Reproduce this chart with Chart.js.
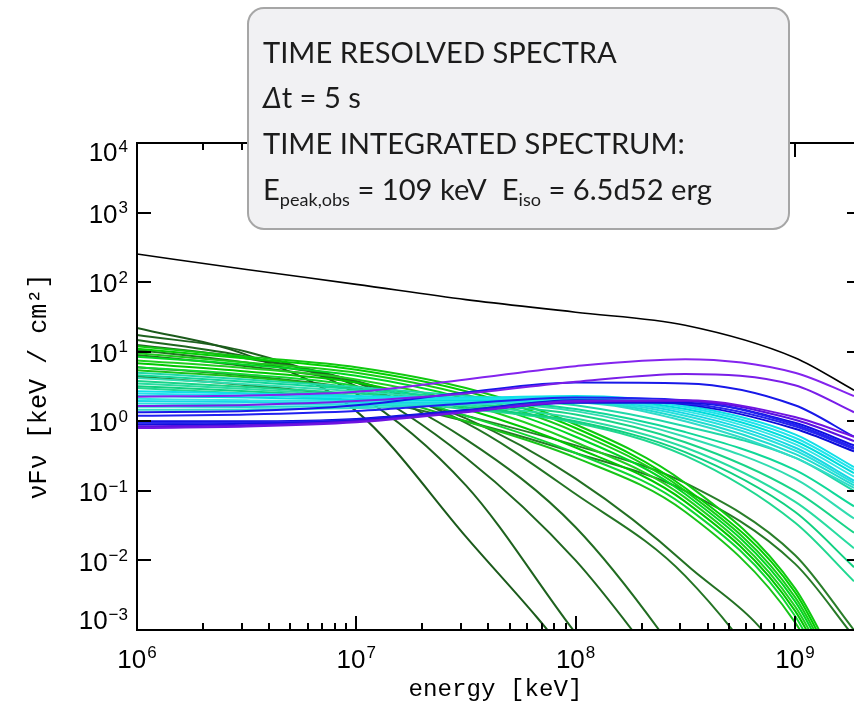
<!DOCTYPE html>
<html>
<head>
<meta charset="utf-8">
<script src="https://cdn.jsdelivr.net/npm/chart.js@4/dist/chart.umd.min.js"></script>
<style>
html,body{margin:0;padding:0;background:#ffffff;overflow:hidden}
#c{display:block}
</style>
</head>
<body>
<canvas id="c" width="854" height="712"></canvas>
<script>
// ---------------- DATA ----------------
const energy = [1e6, 3.16e6, 1e7, 3.16e7, 1e8, 3.16e8, 1e9, 1.86e9];

const integratedSpectrum = [254, 152, 93, 56, 37, 24, 8.2, 2.8];

const purpleSpectra = [
  [2.26, 2.35, 2.65, 4.0, 6.2, 7.8, 5.0, 2.3],
  [1.66, 1.72, 1.95, 2.5, 3.7, 4.8, 3.3, 1.35],
  [0.80, 0.84, 0.97, 1.35, 1.95, 2.0, 1.15, 0.6],
  [0.85, 0.88, 1.0, 1.38, 1.9, 1.95, 1.05, 0.52]
];
const blueSpectra = [
  [1.35, 1.4, 1.7, 2.6, 3.6, 3.5, 1.7, 0.6],
  [1.2, 1.25, 1.4, 1.8, 2.2, 2.0, 0.9, 0.42],
  [0.9, 0.92, 1.03, 1.4, 1.85, 1.85, 0.95, 0.45],
  [0.95, 0.96, 1.05, 1.42, 1.95, 1.8, 0.85, 0.4],
  [1.0, 1.0, 1.08, 1.45, 2.0, 1.75, 0.78, 0.37]
];
const cyanSpectra = [
  [2.7, 2.5, 2.3, 2.2, 2.3, 1.7, 0.65, 0.22],
  [2.5, 2.35, 2.2, 2.1, 2.2, 1.6, 0.58, 0.2],
  [2.3, 2.2, 2.05, 2.0, 2.1, 1.5, 0.52, 0.18],
  [2.1, 2.0, 1.95, 1.95, 2.05, 1.4, 0.47, 0.16],
  [1.95, 1.9, 1.85, 1.9, 2.0, 1.3, 0.42, 0.14],
  [1.8, 1.75, 1.75, 1.85, 1.95, 1.2, 0.38, 0.13],
  [1.62, 1.6, 1.65, 1.8, 1.9, 1.1, 0.34, 0.12],
  [1.46, 1.48, 1.55, 1.75, 1.85, 1.0, 0.3, 0.11]
];
const tealSpectra = [
  [5.0, 4.0, 3.1, 2.3, 1.7, 0.85, 0.3, 0.1],
  [4.6, 3.7, 2.9, 2.1, 1.5, 0.7, 0.2, 0.06],
  [4.2, 3.4, 2.7, 2.0, 1.4, 0.6, 0.15, 0.04],
  [3.8, 3.1, 2.5, 1.8, 1.25, 0.5, 0.1, 0.025],
  [3.5, 2.9, 2.3, 1.7, 1.1, 0.42, 0.07, 0.015],
  [3.2, 2.7, 2.2, 1.6, 1.0, 0.36, 0.05, 0.008],
  [3.0, 2.5, 2.0, 1.5, 0.95, 0.32, 0.035, 0.005]
];
const greenSpectra = [
  [12, 8.5, 6.0, 3.0, 0.9, 0.13, 0.004, 0.0001],
  [11, 8.0, 5.5, 2.7, 0.8, 0.11, 0.0035, 0.00008],
  [9.5, 7.0, 5.0, 2.4, 0.7, 0.1, 0.003, 0.00007],
  [8.5, 6.5, 4.5, 2.1, 0.6, 0.09, 0.0026, 0.00006],
  [7.5, 5.8, 4.0, 1.8, 0.5, 0.08, 0.0022, 0.00005],
  [6.8, 5.2, 3.6, 1.5, 0.42, 0.07, 0.0019, 0.00004],
  [6.0, 4.7, 3.2, 1.2, 0.35, 0.06, 0.0016, 0.00003],
  [5.4, 4.3, 2.8, 1.0, 0.3, 0.05, 0.0013, 0.00003]
];
const darkGreenSpectra = [
  [22, 9.0, 1.4, 0.022, 0.0003, 1e-6, 1e-8, 1e-9],
  [17.4, 10, 2.5, 0.12, 0.0009, 1e-5, 1e-7, 1e-8],
  [14.8, 8.5, 3.2, 0.3, 0.01, 0.0001, 1e-6, 1e-7],
  [12.5, 8.0, 3.6, 0.55, 0.03, 0.0003, 1e-6, 1e-7],
  [10.6, 7.0, 3.8, 0.95, 0.09, 0.006, 0.00005, 1e-6],
  [9.0, 6.2, 3.6, 1.1, 0.15, 0.009, 0.0002, 1e-6],
  [4.4, 3.3, 2.2, 1.0, 0.35, 0.1, 0.009, 0.0008],
  [6.0, 4.5, 2.9, 1.2, 0.45, 0.13, 0.012, 0.001]
];

const xTickExponents = [6, 7, 8, 9];
const yTickExponents = [-3, -2, -1, 0, 1, 2, 3, 4];
const xAxisTitle = 'energy [keV]';
const yAxisTitle = 'νFν [keV / cm²]';
const boxLines = ['TIME RESOLVED SPECTRA', 'Δt = 5 s', 'TIME INTEGRATED SPECTRUM:'];
const peakEnergy = '109 keV';
const isoEnergy = '6.5d52 erg';

// ---------------- STYLES ----------------
const purpleColors = ['#8424ee', '#7a1ee8', '#7014e0', '#5a10e0'];
const blueColors = ['#1818e8', '#2020f0', '#1010e0', '#2626ee', '#0c0cd8'];
const cyanColors = ['#10e0e8', '#20e4ec', '#00dcdc', '#30e6e6', '#18d8e4', '#28e0dc', '#20dcd0', '#30dcc8'];
const tealColors = ['#20d8a8', '#10d898', '#30dcb0', '#18d488', '#28dca0', '#10d080', '#20d890'];
const greenColors = ['#10c810', '#00d000', '#18cc18', '#00d820', '#20d020', '#00c800', '#10d830', '#18c418'];
const darkGreenColors = ['#1b5a1b', '#1e621e', '#1f661f', '#216c21', '#247424', '#237023', '#277a27', '#2a7e2a'];

function pts(values) { return energy.map((e, i) => ({ x: e, y: values[i] })); }
function ds(values, color, width) {
  return { data: pts(values), borderColor: color, borderWidth: width, pointRadius: 0,
           fill: false, cubicInterpolationMode: 'monotone' };
}

const datasets = [];
datasets.push(ds(integratedSpectrum, '#000000', 1.6));
purpleSpectra.forEach((v, i) => datasets.push(ds(v, purpleColors[i], 2)));
blueSpectra.forEach((v, i) => datasets.push(ds(v, blueColors[i], 2)));
cyanSpectra.forEach((v, i) => datasets.push(ds(v, cyanColors[i], 2)));
tealSpectra.forEach((v, i) => datasets.push(ds(v, tealColors[i], 2)));
greenSpectra.forEach((v, i) => datasets.push(ds(v, greenColors[i], 2)));
darkGreenSpectra.forEach((v, i) => datasets.push(ds(v, darkGreenColors[i], 2)));

// font fitting helper
const mctx = document.createElement('canvas').getContext('2d');
function fitSize(font, text, target) {
  mctx.font = '100px ' + font;
  return 100 * target / mctx.measureText(text).width;
}
const titleFamily = '"Liberation Mono", "DejaVu Sans Mono", monospace';
const xTitleSize = fitSize(titleFamily, xAxisTitle, 174);
const yTitleSize = fitSize(titleFamily, yAxisTitle, 226);
const boxFamily = 'Lato, "Open Sans", sans-serif';
const boxSize = fitSize(boxFamily, boxLines[0], 354);

const tickFamily = '"Liberation Sans", Arial, sans-serif';

const framePlugin = {
  id: 'frame',
  afterDatasetsDraw(chart) {
    const ctx = chart.ctx;
    const a = chart.chartArea;
    const xs = chart.scales.x, ys = chart.scales.y;
    ctx.save();
    ctx.strokeStyle = '#000';
    ctx.lineWidth = 2;
    ctx.beginPath();
    ctx.moveTo(a.right + 2, a.top); ctx.lineTo(a.left, a.top);
    ctx.lineTo(a.left, a.bottom); ctx.lineTo(a.right + 2, a.bottom);
    ctx.stroke();
    for (let d = 6; d <= 9; d++) {
      for (let k = 1; k <= 9; k++) {
        const v = k * Math.pow(10, d);
        if (v > xs.max) break;
        const px = Math.round(xs.getPixelForValue(v));
        const len = k === 1 ? 14 : 7;
        ctx.beginPath();
        ctx.moveTo(px, a.bottom); ctx.lineTo(px, a.bottom - len);
        ctx.moveTo(px, a.top); ctx.lineTo(px, a.top + len);
        ctx.stroke();
      }
    }
    yTickExponents.forEach(e => {
      const py = Math.round(ys.getPixelForValue(Math.pow(10, e)));
      ctx.beginPath();
      ctx.moveTo(a.left, py); ctx.lineTo(a.left + 14, py);
      ctx.moveTo(a.right - 7, py); ctx.lineTo(a.right, py);
      ctx.stroke();
    });
    ctx.fillStyle = '#000';
    ctx.textBaseline = 'middle';
    ctx.textAlign = 'left';
    const baseFont = '26px ' + tickFamily;
    const expFont = '17px ' + tickFamily;
    yTickExponents.forEach(e => {
      const py = ys.getPixelForValue(Math.pow(10, e));
      const expText = e < 0 ? '\u2212' + (-e) : String(e);
      ctx.font = expFont; const we = ctx.measureText(expText).width;
      ctx.font = baseFont; const wb = ctx.measureText('10').width;
      let cy = py + 3;
      if (cy < a.top + 11) cy = a.top + 11;
      if (cy > a.bottom - 8) cy = a.bottom - 8;
      const xe = a.left - 9 - we;
      const xb = xe - wb - 1;
      ctx.font = baseFont; ctx.fillText('10', xb, cy);
      ctx.font = expFont; ctx.fillText(expText, xe, cy - 7);
    });
    xTickExponents.forEach(e => {
      const px = xs.getPixelForValue(Math.pow(10, e));
      const expText = String(e);
      ctx.font = expFont; const we = ctx.measureText(expText).width;
      ctx.font = baseFont; const wb = ctx.measureText('10').width;
      const total = wb + 1 + we;
      const xb = px - total / 2;
      ctx.font = baseFont; ctx.fillText('10', xb, 661);
      ctx.font = expFont; ctx.fillText(expText, xb + wb + 1, 653);
    });
    ctx.restore();
  },
  afterDraw(chart) {
    const ctx = chart.ctx;
    ctx.save();
    const x0 = 248, y0 = 8, x1 = 789, y1 = 229;
    ctx.beginPath();
    ctx.roundRect(x0, y0, x1 - x0, y1 - y0, 16);
    ctx.fillStyle = '#f1f1f3';
    ctx.fill();
    ctx.lineWidth = 2;
    ctx.strokeStyle = '#a6a6a6';
    ctx.stroke();
    ctx.fillStyle = '#1c1c1c';
    ctx.textBaseline = 'alphabetic';
    ctx.textAlign = 'left';
    const f = boxSize.toFixed(2) + 'px ' + boxFamily;
    const fi = 'italic ' + f;
    const fs = (boxSize * 0.62).toFixed(2) + 'px ' + boxFamily;
    const tx = 263;
    ctx.font = f;
    ctx.fillText(boxLines[0], tx, 63);
    ctx.font = fi;
    const delta = boxLines[1].charAt(0);
    ctx.fillText(delta, tx, 108);
    const wd = ctx.measureText(delta).width;
    ctx.font = f;
    ctx.fillText(boxLines[1].slice(1), tx + wd, 108);
    ctx.fillText(boxLines[2], tx, 154);
    let x = tx; const by = 200;
    const seg = (t, font, dy) => { ctx.font = font; ctx.fillText(t, x, by + dy); x += ctx.measureText(t).width; };
    seg('E', f, 0);
    seg('peak,obs', fs, 6);
    seg(' = ' + peakEnergy + '  E', f, 0);
    seg('iso', fs, 6);
    seg(' = ' + isoEnergy, f, 0);
    ctx.restore();
  }
};

new Chart(document.getElementById('c').getContext('2d'), {
  type: 'line',
  data: { datasets },
  options: {
    responsive: false,
    animation: false,
    devicePixelRatio: 1,
    layout: { padding: { top: 143, right: 0, left: 0, bottom: 0 } },
    plugins: { legend: { display: false }, tooltip: { enabled: false }, title: { display: false } },
    scales: {
      x: {
        type: 'logarithmic', min: 1e6, max: 1.86e9,
        grid: { display: false }, border: { display: false },
        ticks: { display: false },
        title: { display: true, text: xAxisTitle, color: '#000',
                 font: { family: titleFamily, size: xTitleSize, lineHeight: 1.2 },
                 padding: { top: 0, bottom: 712 - 690 - xTitleSize * 0.6 } },
        afterFit: s => { s.height = 82; }
      },
      y: {
        type: 'logarithmic', min: 1e-3, max: 1e4,
        grid: { display: false }, border: { display: false },
        ticks: { display: false },
        title: { display: true, text: yAxisTitle, color: '#000',
                 font: { family: titleFamily, size: yTitleSize, lineHeight: 1.2 },
                 padding: { top: 39 - yTitleSize * 0.6, bottom: 0 } },
        afterFit: s => { s.width = 137; }
      }
    }
  },
  plugins: [framePlugin]
});
</script>
</body>
</html>
